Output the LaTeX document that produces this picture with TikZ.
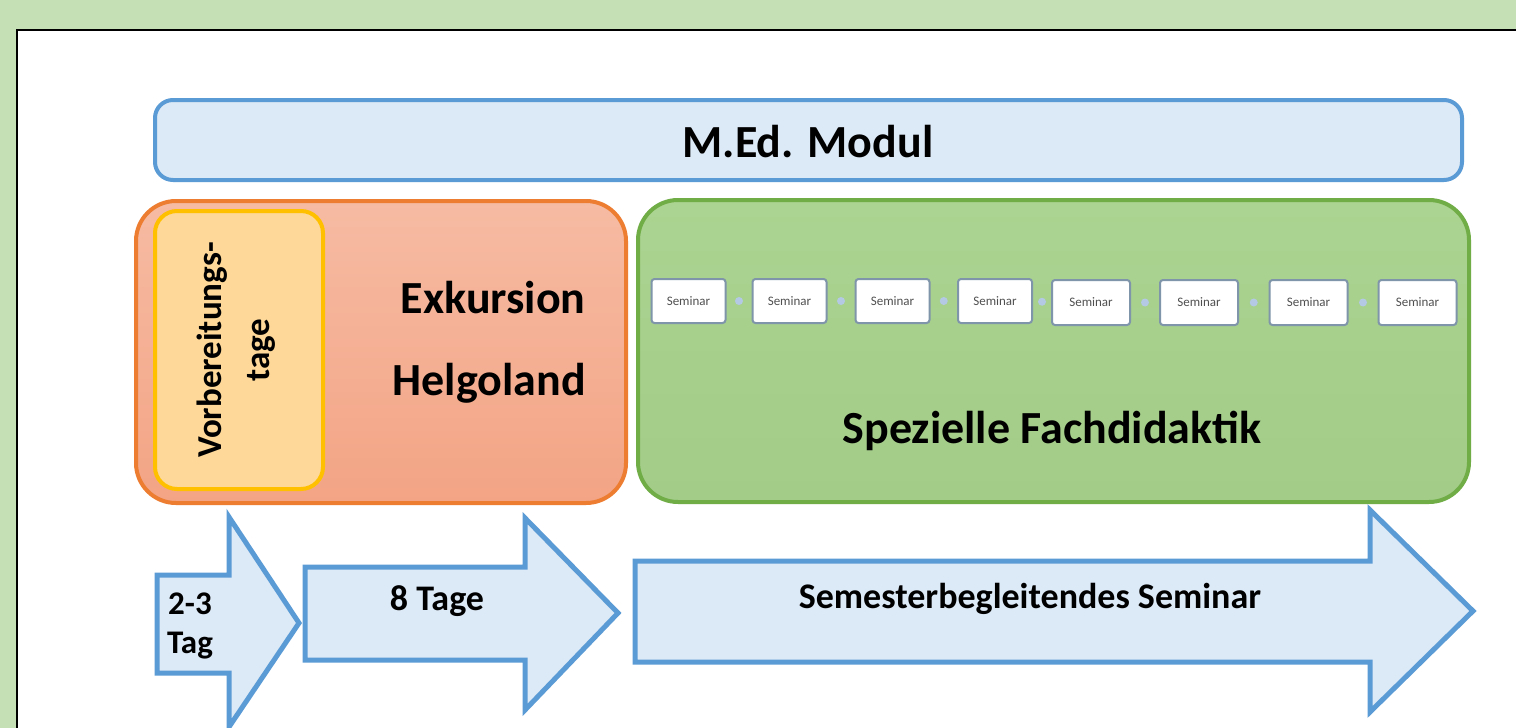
\documentclass[tikz,border=0pt]{standalone}
\usepackage{fontspec}
\setmainfont{Carlito}
\definecolor{bggreen}{HTML}{C5E0B4}
\definecolor{bluestroke}{HTML}{5B9BD5}
\definecolor{bluefill}{HTML}{DCE9F6}
\definecolor{orangestroke}{HTML}{ED7D31}
\definecolor{orangetop}{HTML}{F6BBA3}
\definecolor{orangebot}{HTML}{F3A485}
\definecolor{yellowstroke}{HTML}{FFC000}
\definecolor{yellowfill}{HTML}{FDD898}
\definecolor{greenstroke}{HTML}{70AD47}
\definecolor{greentop}{HTML}{ABD391}
\definecolor{greenbot}{HTML}{A2CC88}
\definecolor{semstroke}{HTML}{7F95A9}
\definecolor{semtext}{HTML}{505050}
\definecolor{dotblue}{HTML}{B4C9E4}
\begin{document}
\begin{tikzpicture}[x=0.5pt,y=-0.5pt,
  bigbox/.style={inner sep=0pt, line width=2pt, rounded corners=20pt},
  medbar/.style={bigbox, draw=bluestroke, fill=bluefill, rounded corners=9pt,
     minimum width=653.5pt, minimum height=40pt},
  exkbox/.style={bigbox, draw=orangestroke, top color=orangetop, bottom color=orangebot,
     minimum width=245pt, minimum height=151pt},
  prepbox/.style={bigbox, draw=yellowstroke, fill=yellowfill, rounded corners=11pt,
     minimum width=84pt, minimum height=139pt},
  fdbox/.style={bigbox, draw=greenstroke, top color=greentop, bottom color=greenbot,
     minimum width=415.5pt, minimum height=151pt},
  sem/.style={draw=semstroke, fill=white, line width=1pt, rounded corners=1.5pt,
     minimum width=37pt, minimum height=22pt, inner sep=0pt,
     font=\fontsize{6.5}{8}\selectfont, text=semtext},
  semb/.style={sem, minimum width=39pt, minimum height=22.5pt},
  semdot/.style={circle, fill=dotblue, inner sep=0pt, minimum size=4pt},
  bigtext/.style={font=\bfseries\fontsize{23}{27}\selectfont, inner sep=0pt},
  arrtext/.style={font=\bfseries\fontsize{18}{21}\selectfont, inner sep=0pt},
  smalltext/.style={font=\bfseries\fontsize{16.5}{20}\selectfont, inner sep=0pt},
  blockarrow/.style={draw=bluestroke, fill=bluefill, line width=2.5pt, line join=miter}
]
\useasboundingbox (0,0) rectangle (1516,728);
\clip (0,0) rectangle (1516,728);
\fill[bggreen] (0,0) rectangle (1516,728);
\draw[black, line width=1pt, fill=white] (16.5,29.5) rectangle (1560,780);

% top bar
\node[medbar] (med) at (808.5,140) {};
\node[bigtext, anchor=base] (medtext) at (808,157) {M.Ed. Modul};

% Exkursion box
\node[exkbox] (exk) at (381,352) {};
\node[prepbox] (prep) at (239,350) {};
\node[rotate=90, align=center, font=\bfseries\fontsize{17.5}{24}\selectfont, inner sep=0pt]
  (preptext) at (236,350) {Vorbereitungs-\\tage};
\node[bigtext, anchor=base east] (exk1) at (586,313) {Exkursion};
\node[bigtext, anchor=base east] (exk2) at (586,395) {Helgoland};

% Fachdidaktik box
\node[fdbox] (fd) at (1053.5,351) {};
\node[bigtext, anchor=base] (fdtext) at (1052,443) {Spezielle Fachdidaktik};

\node[sem] (s1) at (688.5,301) {Seminar};
\node[sem] (s2) at (789.5,301) {Seminar};
\node[sem] (s3) at (892.5,301) {Seminar};
\node[sem] (s4) at (995,301) {Seminar};
\node[semb] (s5) at (1091,302.5) {Seminar};
\node[semb] (s6) at (1199,302.5) {Seminar};
\node[semb] (s7) at (1308.5,302.5) {Seminar};
\node[semb] (s8) at (1417.5,302.5) {Seminar};
\foreach \a/\b in {s1/s2,s2/s3,s3/s4,s4/s5,s5/s6,s6/s7,s7/s8}
  \path (\a.east) -- (\b.west) node[midway, semdot] {};

% block arrows
\draw[blockarrow] (157,575) -- (229,575) -- (229,517) -- (299,623) -- (229,727)
   -- (229,673) -- (157,673) -- cycle;
\node[smalltext, anchor=base] (a1t1) at (190,614) {2-3};
\node[smalltext, anchor=base] (a1t2) at (190,653) {Tag};

\draw[blockarrow] (305,567) -- (525,567) -- (525,518) -- (618,613) -- (525,710)
   -- (525,660) -- (305,660) -- cycle;
\node[arrtext, anchor=base] (a2t) at (437,610) {8 Tage};

\draw[blockarrow] (635,561) -- (1370,561) -- (1370,510) -- (1473,611) -- (1370,712)
   -- (1370,662) -- (635,662) -- cycle;
\node[arrtext, anchor=base] (a3t) at (1030,608) {Semesterbegleitendes Seminar};
\end{tikzpicture}
\end{document}
